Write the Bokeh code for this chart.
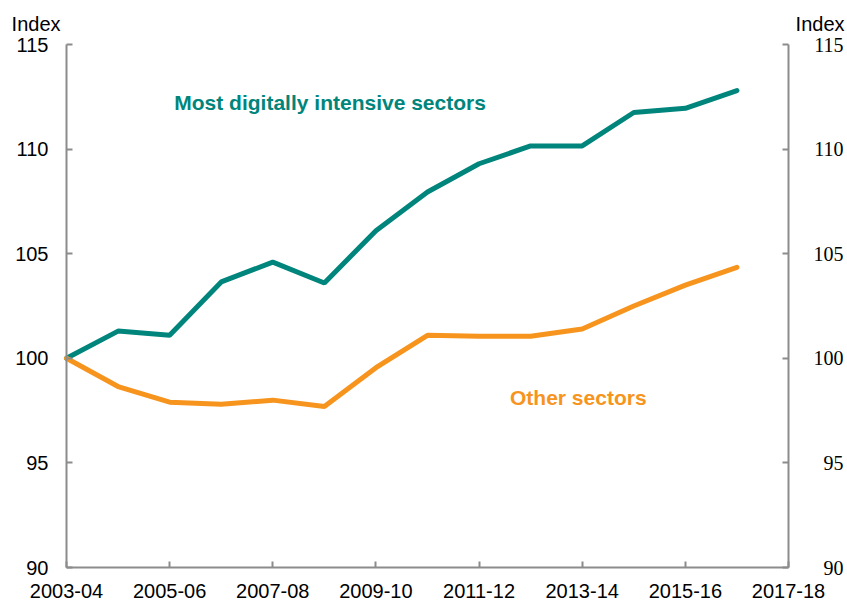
from bokeh.plotting import figure
from bokeh.models import Range1d, LinearAxis, FixedTicker, Label, LabelSet, ColumnDataSource
from bokeh.embed import file_html
from bokeh.resources import INLINE

# ---- data -------------------------------------------------------------
years = ["2003-04", "2004-05", "2005-06", "2006-07", "2007-08", "2008-09", "2009-10",
         "2010-11", "2011-12", "2012-13", "2013-14", "2014-15", "2015-16", "2016-17"]
digital = [100.0, 101.3, 101.1, 103.65, 104.6, 103.6, 106.1,
           107.95, 109.3, 110.15, 110.15, 111.75, 111.95, 112.8]
other = [100.0, 98.65, 97.9, 97.8, 98.0, 97.7, 99.55,
         101.1, 101.05, 101.05, 101.4, 102.5, 103.5, 104.35]
x_tick_labels = ["2003-04", "2005-06", "2007-08", "2009-10", "2011-12",
                 "2013-14", "2015-16", "2017-18"]
y_ticks = [90, 95, 100, 105, 110, 115]
series_names = ["Most digitally intensive sectors", "Other sectors"]

TEAL = "#00857C"
ORANGE = "#F7941D"
AXIS = "#8C8C8C"
FONT = "Liberation Sans"

x_idx = list(range(len(years)))
x_tick_pos = [int(s[:4]) - int(years[0][:4]) for s in x_tick_labels]
x_lo, x_hi = x_tick_pos[0], x_tick_pos[-1]
y_lo, y_hi = y_ticks[0], y_ticks[-1]

# ---- layout (pixels) --------------------------------------------------
W, H = 847, 601
AX_L, AX_R, AX_T, AX_B = 66, 788, 44, 567      # plot box in canvas pixels
sx = (AX_R - AX_L) / (x_hi - x_lo)
sy = (AX_B - AX_T) / (y_hi - y_lo)
xr = Range1d(x_lo - AX_L / sx, x_hi + (W - AX_R) / sx)
yr = Range1d(y_lo - (H - AX_B) / sy, y_hi + AX_T / sy)

p = figure(width=W, height=H, output_backend="svg", toolbar_location=None,
           x_range=xr, y_range=yr, x_axis_location=None, y_axis_location=None,
           min_border=0)
p.outline_line_color = None
p.grid.visible = False
p.background_fill_color = "white"
p.border_fill_color = "white"

src = ColumnDataSource(dict(x=x_idx, digital=digital, other=other))
p.line("x", "digital", source=src, line_color=TEAL, line_width=5, line_cap="round")
p.line("x", "other", source=src, line_color=ORANGE, line_width=5, line_cap="round")


def style(ax):
    ax.axis_line_color = AXIS
    ax.axis_line_width = 2
    ax.major_tick_line_color = AXIS
    ax.major_tick_line_width = 2
    ax.major_tick_in = 6
    ax.major_tick_out = 0
    ax.minor_tick_line_color = None
    ax.major_label_text_font = FONT
    ax.major_label_text_font_size = "20px"
    ax.major_label_text_color = "black"


la = LinearAxis(ticker=FixedTicker(ticks=y_ticks), fixed_location=x_lo, bounds=(y_lo, y_hi))
style(la)
la.major_label_standoff = 18
p.add_layout(la, "left")

ra = LinearAxis(ticker=FixedTicker(ticks=y_ticks), fixed_location=x_hi, bounds=(y_lo, y_hi))
style(ra)
ra.major_label_overrides = {v: "" for v in y_ticks}
p.add_layout(ra, "right")

ba = LinearAxis(ticker=FixedTicker(ticks=x_tick_pos), fixed_location=y_lo, bounds=(x_lo, x_hi))
style(ba)
ba.major_label_standoff = 16
ba.major_label_overrides = {v: t for v, t in zip(x_tick_pos, x_tick_labels)}
p.add_layout(ba, "below")

# right-hand tick labels, right-aligned as in the reference
rl_src = ColumnDataSource(dict(x=[x_hi] * len(y_ticks), y=y_ticks, t=[str(v) for v in y_ticks]))
p.add_layout(LabelSet(x="x", y="y", text="t", source=rl_src, x_offset=55,
                      text_align="right", text_baseline="middle",
                      text_font=FONT, text_font_size="20px", text_color="black"))

# "Index" titles
p.add_layout(Label(x=x_lo, y=y_hi, text="Index", x_offset=-6, y_offset=21,
                   text_align="right", text_baseline="alphabetic",
                   text_font=FONT, text_font_size="20px", text_color="black"))
p.add_layout(Label(x=x_hi, y=y_hi, text="Index", x_offset=56, y_offset=21,
                   text_align="right", text_baseline="alphabetic",
                   text_font=FONT, text_font_size="20px", text_color="black"))

# series labels
p.add_layout(Label(x=2.09, y=111.89, text=series_names[0], y_offset=7,
                   text_align="left", text_baseline="alphabetic",
                   text_font=FONT, text_font_size="21px", text_font_style="bold",
                   text_color=TEAL))
p.add_layout(Label(x=8.6, y=97.79, text=series_names[1], y_offset=7,
                   text_align="left", text_baseline="alphabetic",
                   text_font=FONT, text_font_size="21px", text_font_style="bold",
                   text_color=ORANGE))

open("out.html", "w").write(file_html(p, INLINE))
